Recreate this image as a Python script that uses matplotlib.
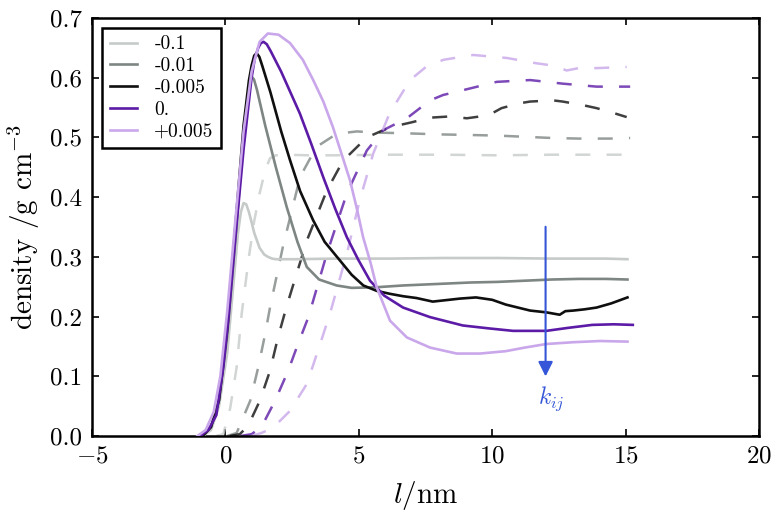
import matplotlib
matplotlib.use("Agg")
import matplotlib.pyplot as plt

plt.rcParams['font.family'] = 'serif'
plt.rcParams['font.serif'] = ['cmr10', 'DejaVu Serif']
plt.rcParams['mathtext.fontset'] = 'cm'
plt.rcParams['axes.formatter.use_mathtext'] = True
plt.rcParams['axes.unicode_minus'] = True

labels = ['-0.1', '-0.01', '-0.005', '0.', '+0.005']
colors = ['#c6cbc9', '#7e8684', '#0f0f0f', '#5c1ba6', '#c9a7ea']

# solid curves
x_s1 = [-0.85, -0.54, -0.24, 0.07, 0.27, 0.47, 0.58, 0.68, 0.78, 0.88, 0.98, 1.08, 1.28, 1.45, 1.59, 1.75, 1.89, 2.6, 4.12, 6.15, 8.18, 10.2, 12.23, 14.26, 15.07]
y_s1 = [0, 0.01, 0.05, 0.14, 0.24, 0.34, 0.375, 0.39, 0.388, 0.375, 0.358, 0.34, 0.315, 0.304, 0.30, 0.297, 0.296, 0.296, 0.297, 0.297, 0.298, 0.298, 0.297, 0.297, 0.296]

x_s2 = [-0.85, -0.54, -0.24, 0.07, 0.37, 0.68, 0.82, 0.96, 1.07, 1.18, 1.49, 1.89, 2.3, 2.7, 3.05, 3.51, 4.17, 4.73, 5.64, 6.65, 8.18, 9.19, 10.2, 11.22, 12.23, 13.24, 14.26, 15.07]
y_s2 = [0, 0.015, 0.06, 0.17, 0.33, 0.50, 0.565, 0.603, 0.597, 0.58, 0.52, 0.45, 0.383, 0.325, 0.283, 0.262, 0.252, 0.248, 0.249, 0.252, 0.255, 0.257, 0.258, 0.260, 0.262, 0.263, 0.263, 0.262]

x_s3 = [-0.85, -0.54, -0.24, 0.07, 0.37, 0.68, 0.88, 0.98, 1.08, 1.17, 1.27, 1.38, 1.69, 2.09, 2.42, 2.8, 3.29, 3.72, 4.29, 4.73, 5.17, 5.67, 6.17, 6.66, 7.16, 7.77, 8.38, 8.78, 9.39, 10.0, 10.51, 11.42, 12.03, 12.53, 12.74, 13.04, 13.45, 13.91, 14.46, 15.07]
y_s3 = [0, 0.015, 0.06, 0.18, 0.35, 0.52, 0.595, 0.62, 0.637, 0.641, 0.635, 0.62, 0.575, 0.51, 0.462, 0.41, 0.361, 0.325, 0.294, 0.27, 0.252, 0.243, 0.238, 0.234, 0.231, 0.225, 0.228, 0.23, 0.232, 0.228, 0.22, 0.21, 0.207, 0.203, 0.209, 0.21, 0.212, 0.215, 0.222, 0.232]

x_s4 = [-0.95, -0.64, -0.34, -0.08, 0.12, 0.37, 0.68, 0.98, 1.1, 1.23, 1.33, 1.43, 1.55, 1.69, 2.09, 2.79, 3.21, 3.67, 4.12, 4.55, 4.98, 5.42, 5.95, 6.66, 7.67, 8.9, 9.9, 10.78, 12.03, 12.84, 13.75, 14.56, 15.27]
y_s4 = [0, 0.01, 0.035, 0.115, 0.2, 0.33, 0.48, 0.6, 0.632, 0.65, 0.658, 0.66, 0.656, 0.645, 0.61, 0.54, 0.49, 0.433, 0.38, 0.333, 0.295, 0.26, 0.235, 0.215, 0.199, 0.185, 0.18, 0.176, 0.176, 0.181, 0.186, 0.187, 0.186]

x_s5 = [-1.05, -0.74, -0.44, -0.19, 0.07, 0.37, 0.68, 0.98, 1.28, 1.59, 1.99, 2.42, 2.9, 3.29, 3.67, 4.03, 4.37, 4.67, 4.93, 5.16, 5.44, 5.67, 6.17, 6.8, 7.67, 8.67, 9.54, 10.51, 11.22, 12.03, 13.04, 14.05, 15.07]
y_s5 = [0, 0.01, 0.04, 0.1, 0.21, 0.36, 0.51, 0.61, 0.66, 0.674, 0.672, 0.658, 0.63, 0.596, 0.56, 0.517, 0.47, 0.428, 0.38, 0.333, 0.29, 0.249, 0.193, 0.165, 0.148, 0.138, 0.138, 0.142, 0.148, 0.154, 0.157, 0.159, 0.158]

# dashed curves
x_d1 = [-0.34, -0.08, 0.18, 0.42, 0.61, 0.88, 1.08, 1.28, 1.49, 1.67, 1.89, 2.3, 3.11, 4.12, 6.15, 8.18, 10.2, 12.23, 14.26, 15.17]
y_d1 = [0, 0.003, 0.047, 0.115, 0.205, 0.3, 0.36, 0.406, 0.445, 0.465, 0.47, 0.471, 0.47, 0.47, 0.471, 0.471, 0.47, 0.471, 0.471, 0.471]

x_d2 = [0.07, 0.42, 0.93, 1.23, 1.49, 1.67, 2.15, 2.8, 3.41, 4.17, 4.93, 5.64, 6.66, 8.04, 9.19, 10.2, 11.22, 12.23, 13.24, 14.42, 15.17]
y_d2 = [0, 0.005, 0.059, 0.115, 0.171, 0.215, 0.316, 0.434, 0.484, 0.506, 0.51, 0.508, 0.507, 0.505, 0.504, 0.503, 0.501, 0.499, 0.498, 0.498, 0.499]

x_d3 = [0.17, 0.54, 0.85, 1.29, 1.67, 1.97, 2.3, 3.05, 3.8, 4.41, 5.3, 6.17, 6.96, 7.67, 8.38, 9.05, 9.86, 10.35, 11.01, 11.42, 12.28, 12.64, 13.4, 13.91, 14.61, 15.04]
y_d3 = [0, 0.003, 0.017, 0.059, 0.109, 0.165, 0.218, 0.327, 0.411, 0.461, 0.50, 0.517, 0.525, 0.533, 0.535, 0.532, 0.537, 0.549, 0.557, 0.56, 0.562, 0.56, 0.554, 0.549, 0.54, 0.534]

x_d4 = [0.57, 0.98, 1.35, 1.86, 2.35, 2.72, 3.11, 3.8, 4.55, 5.3, 5.91, 6.8, 7.67, 8.16, 8.9, 10.17, 11.42, 12.64, 13.91, 15.17]
y_d4 = [0, 0.003, 0.015, 0.059, 0.109, 0.154, 0.199, 0.305, 0.406, 0.478, 0.512, 0.532, 0.562, 0.571, 0.579, 0.593, 0.596, 0.59, 0.585, 0.585]

x_d5 = [0.98, 1.35, 1.79, 2.42, 3.05, 3.47, 3.92, 4.55, 5.03, 5.54, 6.15, 6.92, 7.57, 8.18, 9.29, 10.55, 11.67, 12.33, 12.79, 13.24, 13.91, 15.04]
y_d5 = [0, 0.005, 0.014, 0.042, 0.087, 0.143, 0.205, 0.305, 0.394, 0.473, 0.54, 0.596, 0.62, 0.63, 0.638, 0.633, 0.624, 0.62, 0.612, 0.616, 0.616, 0.618]

solid_x = [x_s1, x_s2, x_s3, x_s4, x_s5]
solid_y = [y_s1, y_s2, y_s3, y_s4, y_s5]
dash_x = [x_d1, x_d2, x_d3, x_d4, x_d5]
dash_y = [y_d1, y_d2, y_d3, y_d4, y_d5]

fig = plt.figure(figsize=(7.76, 5.19), dpi=100)
ax = fig.add_axes([0.1186, 0.160, 0.8595, 0.8054])

for i in range(5):
    ax.plot(solid_x[i], solid_y[i], color=colors[i], lw=1.9, label=labels[i], zorder=3,
            solid_joinstyle='round')
    ax.plot(dash_x[i], dash_y[i], color=colors[i], lw=1.8, alpha=0.8,
            linestyle=(0, (6, 6.5)), zorder=2)

ax.set_xlim(-5, 20)
ax.set_ylim(0, 0.7)
ax.set_xticks([-5, 0, 5, 10, 15, 20])
ax.set_yticks([0.0, 0.1, 0.2, 0.3, 0.4, 0.5, 0.6, 0.7])
ax.set_yticklabels(['0.0', '0.1', '0.2', '0.3', '0.4', '0.5', '0.6', '0.7'])
ax.tick_params(direction='in', length=5, width=1.2, labelsize=18, top=True, right=True, pad=7)
for s in ax.spines.values():
    s.set_linewidth(1.8)

ax.set_xlabel(r'$l$/nm', fontsize=21, labelpad=8)
ax.set_ylabel(r'density /g cm$^{-3}$', fontsize=21, labelpad=6)

blue = '#3556d8'
ax.annotate('', xy=(12.0, 0.095), xytext=(12.0, 0.355),
            arrowprops=dict(arrowstyle='-|>', color=blue, lw=1.5, mutation_scale=22))
ax.text(12.2, 0.062, r'$k_{ij}$', color=blue, fontsize=17, ha='center', va='center')

leg = ax.legend(loc='upper left', fontsize=14, frameon=True, fancybox=False,
                edgecolor='black', handlelength=1.4, handletextpad=0.9,
                labelspacing=0.2, borderaxespad=0.5, borderpad=0.4)
leg.get_frame().set_linewidth(1.8)
leg.get_frame().set_alpha(1)

fig.savefig('out.png', dpi=100)
